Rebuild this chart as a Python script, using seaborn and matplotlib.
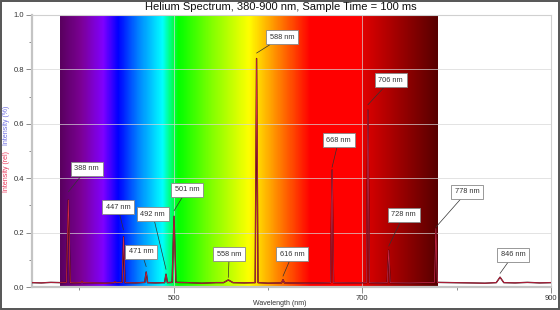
import numpy as np
import pandas as pd
import seaborn as sns
import matplotlib.pyplot as plt
from matplotlib.colors import LinearSegmentedColormap
from matplotlib.patches import Rectangle
from matplotlib.ticker import MultipleLocator, FixedLocator

# spectrum trace (nm, relative intensity)
wavelength = [350, 360, 370, 380, 386.5, 388.5, 390.5, 396, 402, 403, 404, 415,
              428, 437, 438, 439, 445.5, 447, 448.5, 460, 469.5, 471, 472.5, 481,
              490.5, 492, 493.5, 498.5, 500.5, 502.5, 515, 530, 545, 553, 558, 563,
              575, 586.5, 588, 589.5, 600, 614.5, 616, 617.5, 640, 655, 666.5, 668,
              669.5, 690, 704.5, 706, 707.5, 716, 726.5, 728, 729.5, 750, 765, 776.5,
              778, 779.5, 795, 815, 830, 842, 846, 850, 862, 875, 888, 900]
intensity = [0.016, 0.015, 0.017, 0.016, 0.017, 0.32, 0.016, 0.015, 0.016, 0.021, 0.016, 0.015,
             0.014, 0.016, 0.020, 0.016, 0.017, 0.185, 0.016, 0.015, 0.017, 0.055, 0.016, 0.015,
             0.016, 0.047, 0.016, 0.017, 0.26, 0.017, 0.016, 0.014, 0.016, 0.016, 0.026, 0.016,
             0.015, 0.016, 0.84, 0.016, 0.014, 0.015, 0.027, 0.015, 0.014, 0.015, 0.016, 0.43,
             0.016, 0.015, 0.016, 0.65, 0.016, 0.015, 0.016, 0.135, 0.016, 0.015, 0.016, 0.017,
             0.215, 0.017, 0.016, 0.015, 0.014, 0.016, 0.036, 0.016, 0.015, 0.017, 0.015, 0.016]

peak_labels = ["388 nm", "447 nm", "471 nm", "492 nm", "501 nm", "558 nm", "588 nm",
               "616 nm", "668 nm", "706 nm", "728 nm", "778 nm", "846 nm"]
peak_nm = [388.5, 447, 471, 492, 500.5, 558, 588, 616, 668, 706, 728, 778, 846]
peak_tip = [0.35, 0.21, 0.075, 0.065, 0.28, 0.035, 0.86, 0.04, 0.44, 0.67, 0.15, 0.22, 0.05]

# label box centres (layout)
box_pos = [(408, 0.434), (441, 0.294), (466, 0.129), (478, 0.268), (514, 0.357),
           (559, 0.121), (615, 0.919), (626, 0.121), (675, 0.54), (730, 0.76),
           (744, 0.265), (811, 0.35), (860, 0.118)]

df = pd.DataFrame({"wavelength": wavelength, "intensity": intensity})

sns.set_theme(style="whitegrid")
plt.rcParams['font.family'] = ['Liberation Sans', 'DejaVu Sans']

fig = plt.figure(figsize=(5.6, 3.1), dpi=100)
ax = fig.add_axes([32 / 560, 1 - 287 / 310, (551 - 32) / 560, (287 - 15) / 310])

# visible spectrum backdrop 380-780 nm
stops = [(380, "#5a0060"), (402, "#7c0096"), (425, "#8000ff"), (441, "#0000ff"),
         (462, "#0080ff"), (488, "#00ffff"), (495, "#00ff90"), (505, "#00ff00"),
         (540, "#80ff00"), (580, "#ffff00"), (612, "#ff8000"), (645, "#ff0000"),
         (700, "#ff0000"), (701, "#e00000"), (780, "#580000")]
cmap = LinearSegmentedColormap.from_list(
    "spec", [((w - 380) / 400, c) for w, c in stops])
ax.imshow(np.linspace(0, 1, 800)[None, :], cmap=cmap, aspect="auto",
          extent=[380, 780, 0, 1], zorder=0, interpolation="bilinear")

sns.lineplot(data=df, x="wavelength", y="intensity", ax=ax, sort=False,
             color="#3a0810", lw=1.0, zorder=3)
sns.lineplot(data=df, x="wavelength", y="intensity", ax=ax, sort=False,
             color="#d8284a", lw=0.5, zorder=4)

for lab, x, y, (bx, by) in zip(peak_labels, peak_nm, peak_tip, box_pos):
    ax.annotate(lab, xy=(x, y), xytext=(bx, by), fontsize=5.3, color="#333333",
                ha="center", va="center", zorder=6,
                bbox=dict(boxstyle="square,pad=0.5", fc="white", ec="#888888", lw=0.6),
                arrowprops=dict(arrowstyle="-", color="#333333", lw=0.5,
                                shrinkA=0, shrinkB=0))

ax.set_xlim(350, 900)
ax.set_ylim(0, 1.0)
ax.xaxis.set_major_locator(FixedLocator([500, 700, 900]))
ax.xaxis.set_minor_locator(FixedLocator([400, 600, 800]))
ax.yaxis.set_major_locator(MultipleLocator(0.2))
ax.yaxis.set_minor_locator(MultipleLocator(0.1))
ax.yaxis.set_major_formatter(plt.FormatStrFormatter("%.1f"))
ax.tick_params(which="major", length=4, width=0.6, color="#777777",
               labelsize=5.5, labelcolor="#333333", pad=1.5)
ax.tick_params(which="minor", length=2, width=0.6, color="#777777")
ax.tick_params(axis="x", which="both", bottom=True)
ax.tick_params(axis="y", which="both", left=True)
ax.grid(True, which="major", color="#d6d6d6", lw=0.7, alpha=0.7)
ax.set_xlabel("")
ax.set_ylabel("")
for side in ["left", "bottom"]:
    ax.spines[side].set_color("#c4c4c4")
    ax.spines[side].set_linewidth(1.6)
for side in ["top", "right"]:
    ax.spines[side].set_color("#d0d0d0")
    ax.spines[side].set_linewidth(0.8)

fig.text(0.502, 0.977, "Helium Spectrum, 380-900 nm, Sample Time = 100 ms",
         ha="center", va="center", fontsize=8, color="#111111")
fig.text(0.5, 0.022, "Wavelength (nm)", ha="center", va="center",
         fontsize=5, color="#333333")
fig.text(7 / 560, 1 - 171 / 310, "Intensity (rel)", rotation=90, ha="center",
         va="center", fontsize=5, color="#e8385a")
fig.text(7 / 560, 1 - 125 / 310, "Intensity (%)", rotation=90, ha="center",
         va="center", fontsize=5, color="#6a6ae0")

fig.patches.append(Rectangle((0.002, 0.003), 0.996, 0.994, transform=fig.transFigure,
                             fill=False, ec="#555555", lw=1.4))

fig.savefig("out.png", dpi=100)
